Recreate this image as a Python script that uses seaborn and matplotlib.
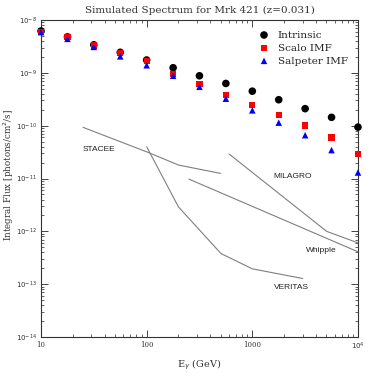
import numpy as np
import pandas as pd
import matplotlib
matplotlib.use('Agg')
import matplotlib.pyplot as plt
import seaborn as sns

# energies (GeV), 4 per decade
energy = [10, 17.8, 31.6, 56.2, 100, 178, 316, 562, 1000, 1778, 3162, 5623, 10000]
intrinsic = [6.2e-9, 4.8e-9, 3.4e-9, 2.45e-9, 1.75e-9, 1.25e-9, 8.8e-10, 6.3e-10,
             4.5e-10, 3.1e-10, 2.1e-10, 1.44e-10, 9.4e-11]
scalo = [6.0e-9, 4.7e-9, 3.3e-9, 2.35e-9, 1.65e-9, 9.6e-10, 6.1e-10, 3.85e-10,
         2.5e-10, 1.6e-10, 1.01e-10, 6.0e-11, 2.94e-11]
salpeter = [5.9e-9, 4.4e-9, 3.1e-9, 2.05e-9, 1.39e-9, 8.8e-10, 5.45e-10, 3.24e-10,
            1.95e-10, 1.14e-10, 6.6e-11, 3.45e-11, 1.3e-11]

# instrument sensitivity curves
stacee_e = [25, 100, 200, 500]
stacee_f = [9.3e-11, 3.2e-11, 1.8e-11, 1.25e-11]
veritas_e = [100, 200, 505, 1000, 3000]
veritas_f = [4.0e-11, 2.9e-12, 3.8e-13, 1.95e-13, 1.28e-13]
milagro_e = [604, 5050, 10000]
milagro_f = [2.9e-11, 1.0e-12, 6.05e-13]
whipple_e = [251, 10000]
whipple_f = [9.75e-12, 4.1e-13]

sns.set_style('ticks')
plt.rcParams['font.family'] = ['DejaVu Serif']

fig, ax = plt.subplots(figsize=(3.78, 3.78), dpi=100)
fig.subplots_adjust(left=0.1085, right=0.947, top=0.947, bottom=0.1085)

gray = '#7f7f7f'
for e, f in [(stacee_e, stacee_f), (veritas_e, veritas_f),
             (milagro_e, milagro_f), (whipple_e, whipple_f)]:
    sns.lineplot(x=e, y=f, ax=ax, color=gray, lw=0.8, sort=False, estimator=None)

sns.scatterplot(x=energy, y=intrinsic, ax=ax, color='black', marker='o', s=30,
                edgecolor='none', label='Intrinsic', clip_on=False, zorder=3)
sns.scatterplot(x=energy, y=scalo, ax=ax, color='red', marker='s', s=20,
                edgecolor='none', label='Scalo IMF', clip_on=False, zorder=4)
sns.scatterplot(x=energy, y=salpeter, ax=ax, color='blue', marker='^', s=22,
                edgecolor='none', label='Salpeter IMF', clip_on=False, zorder=5)

ax.set_xscale('log')
ax.set_yscale('log')
ax.set_xlim(10, 1e4)
ax.set_ylim(1e-14, 1e-8)

ax.set_xticks([10, 100, 1000, 1e4])
ax.set_xticklabels(['10', '100', '1000', r'$10^4$'])
ax.set_yticks([10.0**k for k in range(-14, -7)])
ax.set_yticklabels([r'$10^{%d}$' % k for k in range(-14, -7)])
ax.tick_params(which='both', direction='in', top=True, right=True,
               labelsize=5, pad=3, labelcolor='#333333')
ax.tick_params(which='major', length=5, width=0.6)
ax.tick_params(which='minor', length=2.5, width=0.5)
ax.yaxis.set_minor_locator(matplotlib.ticker.LogLocator(base=10, subs=np.arange(2, 10), numticks=20))
ax.xaxis.set_minor_locator(matplotlib.ticker.LogLocator(base=10, subs=np.arange(2, 10), numticks=20))
ax.yaxis.set_minor_formatter(matplotlib.ticker.NullFormatter())
ax.xaxis.set_minor_formatter(matplotlib.ticker.NullFormatter())
for sp in ax.spines.values():
    sp.set_linewidth(0.8)
    sp.set_color('#333333')

ax.set_title('Simulated Spectrum for Mrk 421 (z=0.031)', fontsize=7.5, color='#333333', pad=5)
ax.set_xlabel(r'E$_\gamma$ (GeV)', fontsize=7, color='#333333', labelpad=4)
ax.set_ylabel(r'Integral Flux [photons/cm$^2$/s]', fontsize=6.3, color='#333333')
ax.yaxis.set_label_coords(-0.078, 0.51)

lab = dict(fontsize=6, family='Liberation Sans', color='#222222', va='center')
ax.text(25, 3.5e-11, 'STACEE', **lab)
ax.text(1567, 1.08e-11, 'MILAGRO', **lab)
ax.text(3213, 4.4e-13, 'Whipple', **lab)
ax.text(1600, 8.8e-14, 'VERITAS', **lab)

ax.legend(loc='upper right', frameon=False, fontsize=7.5, handletextpad=0.3,
          borderaxespad=0.6, labelspacing=0.35, markerscale=1.0)

fig.savefig('out.png', dpi=100)
